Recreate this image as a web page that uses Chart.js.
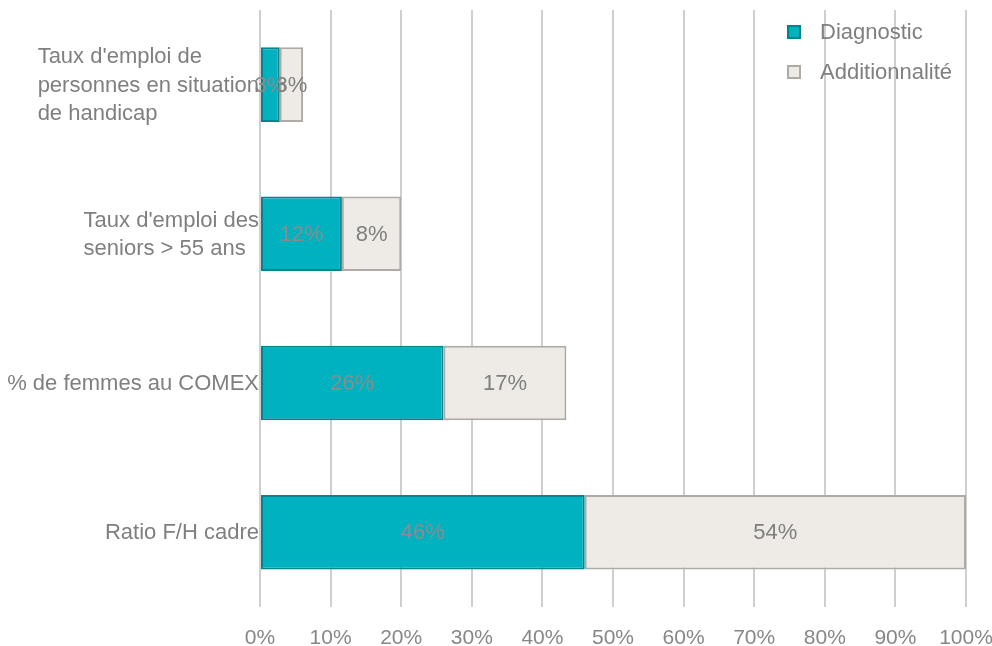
<!DOCTYPE html>
<html>
<head>
<meta charset="utf-8">
<script src="https://cdn.jsdelivr.net/npm/chart.js@4.4.0/dist/chart.umd.min.js"></script>
<style>
html,body{margin:0;padding:0;background:#fff;}
#wrap{width:992px;height:646px;position:relative;}
</style>
</head>
<body>
<div id="wrap"><canvas id="c" width="992" height="646"></canvas></div>
<script>
const categories = [
  ["Taux d'emploi de", "personnes en situation", "de handicap"],
  ["Taux d'emploi des", "seniors > 55 ans"],
  ["% de femmes au COMEX"],
  ["Ratio F/H cadre"]
];
const seriesNames = ["Diagnostic", "Additionnalité"];
const diagnostic = [2.8, 11.6, 26, 46];
const additionnalite = [3.3, 8.4, 17.4, 54];
const diagnosticLabels = ["3%", "12%", "26%", "46%"];
const additionnaliteLabels = ["3%", "8%", "17%", "54%"];
const xTicks = [0, 10, 20, 30, 40, 50, 60, 70, 80, 90, 100];

const FONT = "'Liberation Sans', Arial, sans-serif";
const TEAL = "#00b1bf", TEAL_B = "#00858f";
const BEIGE = "#eeebe7", BEIGE_B = "#aeaaa6";

const labelPlugin = {
  id: 'customLabels',
  afterDatasetsDraw(chart) {
    const ctx = chart.ctx;
    ctx.save();
    ctx.font = "22px " + FONT;
    ctx.textAlign = 'center';
    ctx.textBaseline = 'middle';
    const lists = [diagnosticLabels, additionnaliteLabels];
    const colors = ['#8c8c8c', '#7f7f7f'];
    chart.data.datasets.forEach((ds, di) => {
      const meta = chart.getDatasetMeta(di);
      meta.data.forEach((bar, i) => {
        const x = (bar.x + bar.base) / 2;
        ctx.fillStyle = colors[di];
        ctx.fillText(lists[di][i], x, bar.y + 1);
      });
    });
    // category labels
    const yScale = chart.scales.y;
    ctx.font = "22px " + FONT;
    ctx.fillStyle = '#7f7f7f';
    ctx.textAlign = 'left';
    const right = chart.chartArea.left - 1;
    const lh = 28.5;
    categories.forEach((lines, i) => {
      const yc = yScale.getPixelForValue(i);
      let w = 0;
      lines.forEach(l => { w = Math.max(w, ctx.measureText(l).width); });
      const x0 = right - w;
      const start = yc - (lines.length - 1) * lh / 2;
      lines.forEach((l, k) => ctx.fillText(l, x0, start + k * lh + 1));
    });
    // legend
    const items = [[TEAL, TEAL_B], [BEIGE, BEIGE_B]];
    ctx.font = "22px " + FONT;
    items.forEach((it, k) => {
      const yc = 32 + k * 40;
      ctx.fillStyle = it[0];
      ctx.fillRect(788, yc - 6, 12, 12);
      ctx.strokeStyle = it[1];
      ctx.lineWidth = 2;
      ctx.strokeRect(788, yc - 6, 12, 12);
      ctx.fillStyle = '#7f7f7f';
      ctx.fillText(seriesNames[k], 820, yc + 1);
    });
    ctx.restore();
  }
};

new Chart(document.getElementById('c'), {
  type: 'bar',
  data: {
    labels: categories.map(c => c.join(' ')),
    datasets: [
      { label: seriesNames[0], data: diagnostic, backgroundColor: TEAL, borderColor: TEAL_B, borderWidth: 2, borderSkipped: false, barPercentage: 0.5, categoryPercentage: 1.0 },
      { label: seriesNames[1], data: additionnalite, backgroundColor: BEIGE, borderColor: BEIGE_B, borderWidth: 2, borderSkipped: false, barPercentage: 0.5, categoryPercentage: 1.0 }
    ]
  },
  options: {
    indexAxis: 'y',
    responsive: false,
    animation: false,
    devicePixelRatio: 1,
    layout: { padding: { left: 260, right: 26, top: 10, bottom: -24 } },
    plugins: { legend: { display: false }, tooltip: { enabled: false } },
    scales: {
      x: {
        stacked: true,
        min: 0, max: 100,
        afterBuildTicks(scale) { scale.ticks = xTicks.map(v => ({ value: v })); },
        afterFit(scale) { scale.paddingRight = 0; scale.paddingLeft = 0; },
        ticks: { callback: v => v + '%', color: '#878787', font: { size: 21, family: FONT }, padding: 19, maxRotation: 0 },
        grid: { color: '#cfcfcf', lineWidth: 2, drawTicks: false },
        border: { display: false }
      },
      y: {
        stacked: true,
        display: false,
        grid: { display: false }
      }
    }
  },
  plugins: [labelPlugin]
});
</script>
</body>
</html>
